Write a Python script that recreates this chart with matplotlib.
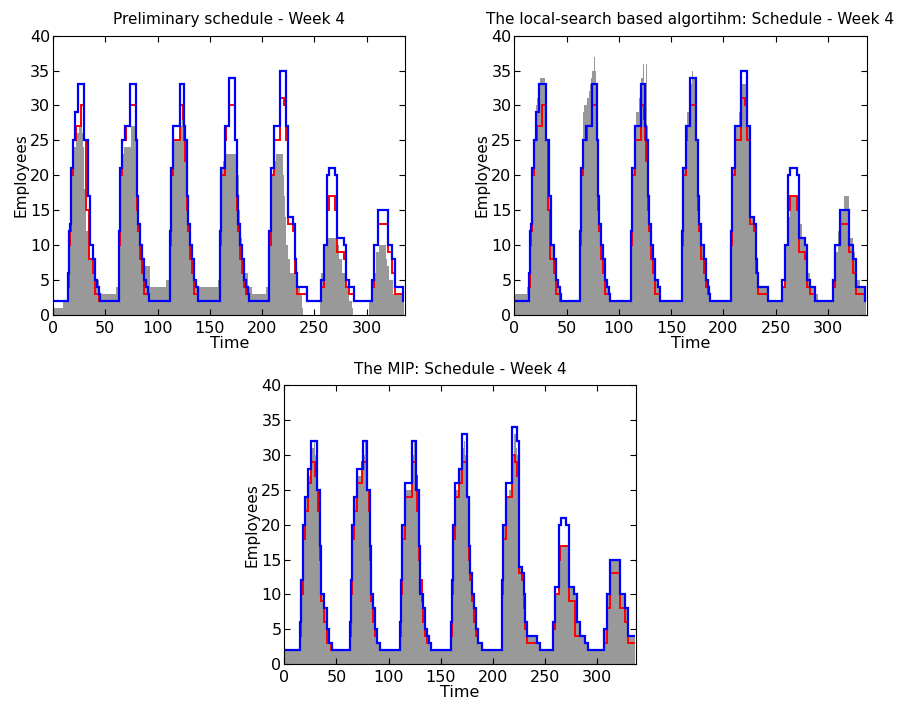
import numpy as np
import matplotlib.pyplot as plt

# step data as (value, length in half-hour slots), 336 slots = one week
blue_a = [(2,14),(6,1),(12,1),(13,1),(21,2),(25,2),(29,3),(33,6),(25,3),(17,2),(10,3),(8,2),(5,2),(4,2),(3,1),(2,18),
          (12,1),(21,2),(25,3),(27,5),(33,5),(25,1),(17,1),(13,2),(10,2),(8,2),(5,2),(4,2),(3,1),(2,20),
          (12,1),(21,2),(27,6),(33,4),(27,1),(25,2),(17,1),(13,2),(10,2),(8,2),(5,2),(4,2),(2,21),
          (12,1),(21,3),(27,4),(34,6),(25,2),(17,1),(13,2),(10,2),(8,2),(5,2),(4,1),(3,1),(2,20),
          (12,1),(21,3),(27,6),(35,6),(27,2),(14,4),(13,2),(8,1),(6,1),(4,10),(2,13),
          (5,3),(10,3),(20,2),(21,6),(20,2),(11,6),(10,2),(5,3),(4,5),(2,17),
          (5,2),(10,4),(15,9),(10,4),(8,3),(4,8),(2,1)]

red_a = [(2,14),(4,1),(10,1),(12,1),(20,2),(25,3),(27,5),(30,3),(25,2),(15,2),(8,4),(6,2),(3,4),(2,19),
         (10,1),(20,2),(25,4),(27,4),(30,5),(25,1),(15,1),(12,2),(8,2),(6,2),(3,5),(2,20),
         (10,1),(20,2),(25,6),(30,3),(28,1),(25,1),(22,2),(15,1),(12,2),(8,2),(6,2),(3,4),(2,21),
         (10,1),(20,3),(25,1),(27,3),(30,6),(25,2),(15,1),(12,2),(8,2),(6,2),(4,2),(3,2),(2,20),
         (10,1),(20,3),(25,6),(31,4),(30,2),(25,2),(13,4),(12,2),(6,2),(3,10),(2,13),
         (4,3),(10,3),(15,2),(17,6),(15,2),(9,6),(8,2),(4,3),(3,5),(2,17),
         (4,2),(10,4),(13,9),(9,4),(6,3),(3,8),(2,1)]

gray_prelim = [(1,10),(2,4),(5,1),(10,1),(15,1),(20,1),(22,2),(24,2),(25,1),(26,2),(27,3),(26,1),(24,1),(18,1),(15,1),(12,1),
               (10,2),(8,2),(6,3),(5,4),(3,16),(4,3),
               (12,1),(17,1),(21,1),(23,2),(24,7),(27,3),(25,1),(20,1),(16,2),(12,1),(10,2),(8,1),(7,7),(4,15),(5,3),
               (12,1),(20,2),(24,2),(25,5),(27,2),(28,2),(26,1),(22,1),(15,1),(13,2),(10,2),(7,2),(5,4),(4,20),(5,2),
               (18,1),(21,2),(22,2),(23,12),(20,1),(15,1),(11,2),(8,2),(6,3),(4,4),(3,14),(4,3),
               (10,1),(20,2),(22,3),(23,7),(20,1),(17,1),(14,1),(10,2),(8,2),(6,5),(4,4),(3,2),(1,1),(0,16),
               (3,1),(6,3),(10,4),(11,8),(10,2),(8,3),(6,3),(4,4),(2,3),(1,1),(0,15),
               (2,2),(4,2),(6,3),(9,3),(10,6),(8,1),(7,2),(5,4),(3,11)]

gray_local = [(3,12),(4,2),(6,1),(12,1),(13,1),(21,1),(25,2),(29,1),(30,1),(31,2),(33,1),(34,4),(33,1),(29,1),(25,2),(17,2),
              (10,3),(8,2),(5,2),(4,2),(3,1),(2,17),
              (3,1),(12,1),(21,1),(25,1),(29,1),(30,3),(31,1),(32,1),(33,1),(34,1),(35,2),(37,1),(35,1),(33,1),(25,1),(17,1),
              (13,2),(10,2),(8,2),(5,2),(4,2),(3,1),(2,19),
              (3,1),(12,1),(21,2),(27,1),(29,3),(31,1),(33,1),(34,2),(36,1),(33,2),(36,1),(27,1),(17,1),(13,2),(10,2),(8,2),
              (5,2),(4,2),(2,20),
              (3,1),(12,1),(21,3),(27,1),(29,2),(30,1),(33,2),(35,1),(34,3),(30,1),(25,1),(17,1),(13,2),(10,2),(8,2),(5,2),
              (4,1),(3,1),(2,20),
              (12,1),(21,3),(25,1),(27,3),(29,1),(30,1),(32,1),(33,4),(31,1),(27,2),(14,4),(13,2),(10,1),(6,1),(4,9),(3,1),(2,12),
              (4,3),(6,2),(10,2),(14,2),(17,8),(15,1),(13,2),(11,3),(10,2),(6,3),(4,5),(3,2),(2,15),
              (5,3),(9,2),(12,2),(15,3),(17,5),(14,1),(11,3),(9,2),(6,2),(5,3),(4,4),(2,1)]

blue_b = [(2,15),(6,1),(12,2),(20,2),(24,3),(28,3),(32,5),(25,3),(17,1),(10,3),(8,3),(5,2),(3,3),
          (2,17),(6,1),(12,1),(20,2),(24,3),(28,5),(32,4),(25,3),(17,1),(10,2),(8,2),(5,2),(3,3),
          (2,19),(6,1),(12,1),(20,3),(26,6),(32,4),(25,3),(17,1),(10,3),(8,2),(5,2),(4,2),(3,2),
          (2,19),(6,1),(12,1),(20,2),(26,3),(28,3),(33,5),(24,2),(17,1),(13,2),(10,2),(8,2),(5,2),(3,3),
          (2,20),(12,1),(20,2),(26,6),(34,5),(32,2),(14,3),(13,2),(10,1),(6,2),(4,9),(3,3),(2,12),
          (6,2),(11,4),(20,2),(21,5),(20,3),(11,5),(10,2),(6,3),(4,5),(3,3),(2,15),
          (5,3),(10,3),(15,10),(10,4),(8,3),(4,7)]

red_b = [(2,15),(4,1),(10,2),(18,2),(22,3),(26,3),(29,3),(27,2),(25,1),(22,2),(15,1),(9,3),(6,3),(3,4),(2,18),
         (4,1),(10,1),(18,2),(22,3),(26,4),(29,5),(25,2),(22,1),(15,1),(9,2),(6,2),(4,2),(3,3),(2,19),
         (4,1),(10,1),(18,3),(24,6),(29,4),(27,1),(22,2),(15,1),(12,2),(9,1),(6,2),(4,2),(3,4),(2,19),
         (4,1),(10,1),(18,2),(24,3),(26,3),(29,5),(24,2),(15,1),(12,2),(9,2),(6,2),(4,2),(3,3),(2,20),
         (10,1),(18,2),(24,6),(30,3),(29,2),(27,2),(13,3),(12,2),(8,1),(5,2),(3,12),(2,12),
         (5,2),(10,4),(15,1),(17,9),(9,6),(4,9),(3,3),(2,15),
         (3,3),(8,3),(13,10),(8,4),(6,3),(3,7)]

gray_mip = [(2,15),(6,1),(12,2),(20,2),(24,3),(27,3),(31,2),(32,1),(30,2),(25,3),(17,1),(10,3),(8,3),(5,2),(3,3),(2,17),
            (6,1),(12,1),(20,2),(24,3),(27,5),(30,2),(32,1),(30,1),(25,3),(17,1),(10,2),(8,2),(5,2),(3,3),(2,19),
            (6,1),(12,1),(20,3),(25,6),(30,2),(32,1),(29,1),(25,3),(17,1),(10,3),(8,2),(5,2),(4,2),(3,2),(2,19),
            (6,1),(12,1),(20,2),(25,3),(28,3),(31,2),(32,1),(30,2),(24,2),(17,1),(13,2),(10,2),(8,2),(5,2),(3,3),(2,20),
            (12,1),(20,2),(24,3),(25,3),(30,2),(33,2),(31,1),(30,2),(14,3),(13,2),(10,1),(6,2),(4,9),(3,3),(2,12),
            (6,2),(10,4),(15,1),(17,9),(11,5),(10,2),(6,3),(4,5),(3,3),(2,15),
            (5,3),(10,3),(15,10),(10,4),(8,3),(4,7)]

N = 336


def expand(segs):
    vals, lens = zip(*segs)
    out = np.repeat(vals, lens).astype(float)
    if len(out) < N:
        out = np.concatenate([out, np.full(N - len(out), out[-1])])
    return out[:N]


def panel(rect, title, gray, red, blue):
    ax = fig.add_axes(rect)
    edges = np.arange(N + 1)
    ax.bar(edges[:-1], expand(gray), width=1, align='edge', color='#999999', linewidth=0)
    ax.stairs(expand(red), edges, color='#ff0000', linewidth=1.4, baseline=None)
    ax.stairs(expand(blue), edges, color='#0000ff', linewidth=1.6, baseline=None)
    ax.set_xlim(0, 337)
    ax.set_ylim(0, 40)
    ax.set_xticks(range(0, 301, 50))
    ax.set_yticks(range(0, 41, 5))
    ax.tick_params(direction='in', top=True, right=True, labelsize=11.5, length=4, pad=4)
    ax.tick_params(axis='y', pad=2)
    ax.set_xlabel('Time', fontsize=11.5, labelpad=0)
    ax.set_ylabel('Employees', fontsize=11, labelpad=1)
    ax.set_title(title, fontsize=11, pad=8)
    for s in ax.spines.values():
        s.set_linewidth(0.8)
    return ax


fig = plt.figure(figsize=(9, 7.02), dpi=100)
panel([0.0589, 0.5513, 0.3916, 0.398], 'Preliminary schedule - Week 4', gray_prelim, red_a, blue_a)
panel([0.5714, 0.5513, 0.3916, 0.398], 'The local-search based algortihm: Schedule - Week 4', gray_local, red_a, blue_a)
panel([0.3159, 0.0537, 0.3908, 0.398], 'The MIP: Schedule - Week 4', gray_mip, red_b, blue_b)

plt.savefig('out.png', dpi=100)
